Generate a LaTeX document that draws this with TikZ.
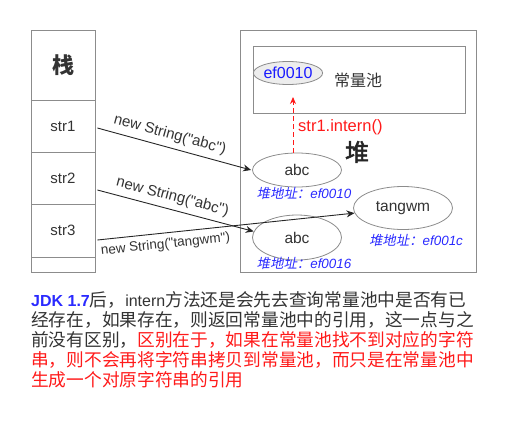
\documentclass[tikz,border=0pt]{standalone}
\usepackage{fontspec}
\setmainfont{Liberation Sans}[Ligatures=TeXOff]
\newfontfamily\cjk{Noto Sans CJK SC}
\newfontfamily\cjkit[FakeSlant=0.2]{Noto Sans CJK SC}
\newfontfamily\cjkb[FakeBold=2]{Noto Sans CJK SC}
\usetikzlibrary{arrows.meta,shapes.geometric}
\definecolor{tgray}{HTML}{333333}
\definecolor{lgray}{HTML}{8C8C8C}
\definecolor{eblue}{HTML}{1A1AFF}
\definecolor{ablue}{HTML}{2A2AFF}
\definecolor{pred}{HTML}{FF1A1A}
\begin{document}
\begin{tikzpicture}[x=1pt,y=-1pt,
  box/.style={draw=lgray, line width=0.8pt},
  cell/.style={box, minimum width=64pt, inner sep=0pt, text=tgray, font=\fontsize{15}{17}\selectfont},
  obj/.style={ellipse, draw=lgray, line width=0.8pt, fill=white, inner sep=0pt, text=tgray, font=\fontsize{15.5}{18}\selectfont},
  addr/.style={text=ablue, inner sep=0pt, font=\fontsize{13.4}{15}\selectfont\itshape},
  conn/.style={draw=black!85, line width=0.9pt, -{Stealth[length=8pt,width=7pt]}},
  lbl/.style={text=tgray, inner sep=0pt, font=\fontsize{15}{17}\selectfont},
  para/.style={anchor=base west, inner sep=0pt, text=tgray, font=\fontsize{17.7}{20}\selectfont\cjk},
]
\useasboundingbox (0,0) rectangle (530,429);
% stack
\node[cell, minimum height=70pt] (st) at (63,65) {\cjk\bfseries\fontsize{22}{24}\selectfont 栈};
\node[cell, minimum height=52pt] (s1) at (63,126) {str1};
\node[cell, minimum height=52pt] (s2) at (63,178) {str2};
\node[cell, minimum height=53pt] (s3) at (63,230.5) {str3};
\node[cell, minimum height=15pt] (s4) at (63,264.5) {};
% heap
\node[box, minimum width=236pt, minimum height=242pt, inner sep=0pt] (heap) at (358,151) {};
\node[box, minimum width=212pt, minimum height=67pt, inner sep=0pt] (pool) at (359,79.5) {};
\node[ellipse, draw=lgray, line width=0.8pt, fill=black!7, minimum width=59pt, minimum height=23pt, inner sep=0pt, text=eblue, font=\fontsize{16}{18}\selectfont] (e) at (288,73) {ef0010};
\node[text=tgray, inner sep=0pt, font=\fontsize{16}{18}\selectfont\cjk] (cp) at (358,80) {常量池};
\node[inner sep=0pt, text=black!85, font=\fontsize{24}{26}\selectfont\cjkb] (dui) at (357,152) {堆};
\node[obj, minimum width=89pt, minimum height=34pt] (a1) at (297,170) {abc};
\node[obj, minimum width=89pt, minimum height=45pt] (a2) at (297,237.5) {abc};
\node[obj, minimum width=99pt, minimum height=43pt] (t) at (403,208) {tangwm};
\node[addr] (ad1) at (304,193) {{\cjkit 堆地址：}ef0010};
\node[addr] (ad2) at (304,263) {{\cjkit 堆地址：}ef0016};
\node[addr] (ad3) at (416,240) {{\cjkit 堆地址：}ef001c};
% intern arrow
\coordinate (ip) at (293,97);
\draw[pred, line width=0.9pt, dash pattern=on 5pt off 3pt, -{Stealth[length=7pt,width=6pt]}] ([xshift=-4pt]a1.north) -- (ip);
\node[anchor=west, inner sep=0pt, text=pred, font=\fontsize{16.5}{18}\selectfont] (il) at (298,127) {str1.intern()};
% connectors
\draw[conn] ([shift={(2,2)}]s1.east) -- node[lbl, sloped, above=5pt, pos=0.45] {new String("abc")} ([xshift=-1pt]a1.west);
\draw[conn] ([shift={(2,12)}]s2.east) -- node[lbl, sloped, above=5pt, pos=0.46] {new String("abc")} (a2.172);
\draw[conn] ([shift={(2,9.5)}]s3.east) -- node[lbl, sloped, below=5pt, pos=0.26, font=\fontsize{13.5}{15}\selectfont] {new String("tangwm")} (t.186);
% paragraph
\node[para] (p1) at (31,306) {{\rmfamily\bfseries\fontsize{16}{18}\selectfont\color{ablue}JDK 1.7}后，{\rmfamily\fontsize{16}{18}\selectfont intern}方法还是会先去查询常量池中是否有已};
\node[para] (p2) at (31,326) {经存在，如果存在，则返回常量池中的引用，这一点与之};
\node[para] (p3) at (31,346) {前没有区别，{\color{pred}区别在于，如果在常量池找不到对应的字符}};
\node[para, text=pred] (p4) at (31,366) {串，则不会再将字符串拷贝到常量池，而只是在常量池中};
\node[para, text=pred] (p5) at (31,386) {生成一个对原字符串的引用};
\end{tikzpicture}
\end{document}
